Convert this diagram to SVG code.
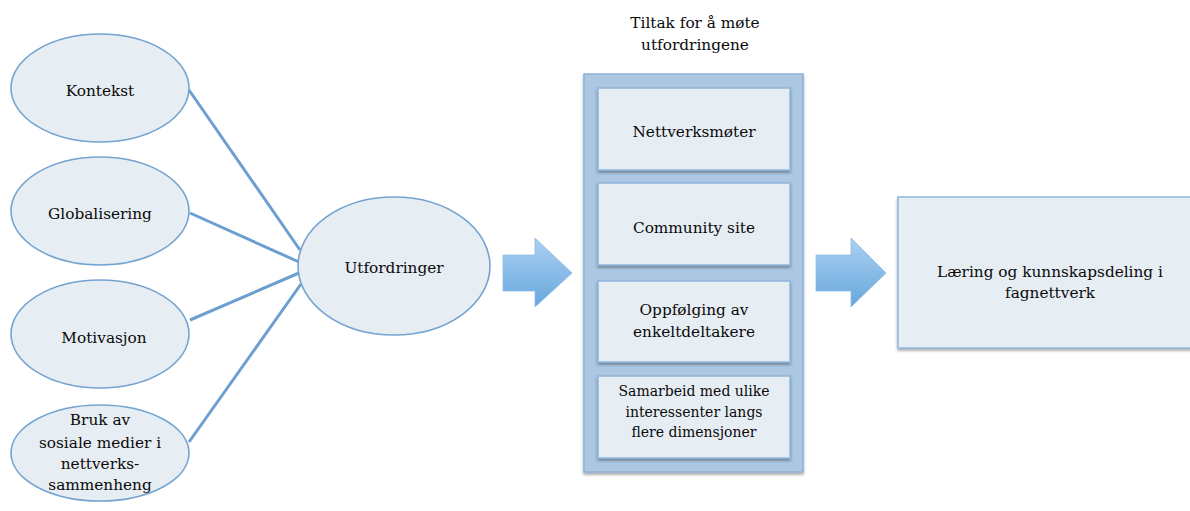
<svg xmlns="http://www.w3.org/2000/svg" width="1190" height="511" viewBox="0 0 1190 511">
<defs>
<linearGradient id="ag" x1="0" y1="0" x2="0" y2="1">
<stop offset="0" stop-color="#acd0f0"/>
<stop offset="1" stop-color="#67a7de"/>
</linearGradient>
<filter id="sh" x="-10%" y="-10%" width="120%" height="130%">
<feGaussianBlur in="SourceAlpha" stdDeviation="1.5"/>
<feOffset dx="0" dy="2" result="b"/>
<feComponentTransfer><feFuncA type="linear" slope="0.35"/></feComponentTransfer>
<feMerge><feMergeNode/><feMergeNode in="SourceGraphic"/></feMerge>
</filter>
</defs>
<style>
.el{fill:#e6edf3;stroke:#74a3d0;stroke-width:1.6}
.bx{fill:#e6edf3;stroke:#8fb5dc;stroke-width:1.5}
.t{font-family:"DejaVu Serif","Liberation Serif",serif;font-size:15.3px;fill:#0a0a0a;text-anchor:middle}
.s{font-size:14px}
.ln{stroke:#6c9fd0;stroke-width:3;fill:none}
.ar{fill:url(#ag);stroke:#8dbbe6;stroke-width:0.8}
</style>
<rect width="1190" height="511" fill="#fff"/>
<g id="connectors">
<line class="ln" x1="189" y1="90" x2="300" y2="250"/>
<line class="ln" x1="190" y1="213" x2="299" y2="262"/>
<line class="ln" x1="190" y1="320" x2="299" y2="273"/>
<line class="ln" x1="189" y1="442" x2="301" y2="284"/>
</g>
<g id="kontekst"><ellipse class="el" cx="100" cy="88" rx="89" ry="54"/><text class="t" x="100" y="96">Kontekst</text></g>
<g id="globalisering"><ellipse class="el" cx="100" cy="211" rx="89" ry="54"/><text class="t" x="100" y="219">Globalisering</text></g>
<g id="motivasjon"><ellipse class="el" cx="100" cy="334" rx="89" ry="54"/><text class="t" x="104" y="343">Motivasjon</text></g>
<g id="bruk"><ellipse class="el" cx="100" cy="453" rx="89" ry="48"/>
<text class="t" x="100" y="425">Bruk av</text>
<text class="t" x="100" y="448">sosiale medier i</text>
<text class="t" x="100" y="469">nettverks-</text>
<text class="t" x="100" y="490">sammenheng</text></g>
<g id="utfordringer"><ellipse class="el" cx="394" cy="266" rx="96" ry="69"/><text class="t" x="394" y="273">Utfordringer</text></g>
<g id="arrow1"><path class="ar" d="M503,255 H535 V238 L572,273 L535,307 V291 H503 Z"/></g>
<g id="tiltak">
<text class="t" x="695" y="28">Tiltak for å møte</text>
<text class="t" x="695" y="50">utfordringene</text>
<rect x="584" y="74" width="219" height="398" fill="#abc7e2" stroke="#8db3da" stroke-width="1.5" filter="url(#sh)"/>
<g id="nettverksmoter"><rect class="bx" x="598" y="88" width="192" height="82" filter="url(#sh)"/><text class="t" x="694" y="137">Nettverksmøter</text></g>
<g id="community"><rect class="bx" x="598" y="183" width="192" height="82" filter="url(#sh)"/><text class="t" x="694" y="233">Community site</text></g>
<g id="oppfolging"><rect class="bx" x="598" y="281" width="192" height="81" filter="url(#sh)"/><text class="t" x="694" y="315">Oppfølging av</text><text class="t" x="694" y="337">enkeltdeltakere</text></g>
<g id="samarbeid"><rect class="bx" x="598" y="376" width="192" height="82" filter="url(#sh)"/><text class="t s" x="694" y="396">Samarbeid med ulike</text><text class="t s" x="694" y="417">interessenter langs</text><text class="t s" x="694" y="437">flere dimensjoner</text></g>
</g>
<g id="arrow2"><path class="ar" d="M816,255 H851 V238 L886,273 L851,307 V291 H816 Z"/></g>
<g id="laering"><rect class="bx" x="898" y="197" width="300" height="151" filter="url(#sh)"/>
<text class="t" x="1050" y="277">Læring og kunnskapsdeling i</text>
<text class="t" x="1050" y="298">fagnettverk</text></g>
</svg>
